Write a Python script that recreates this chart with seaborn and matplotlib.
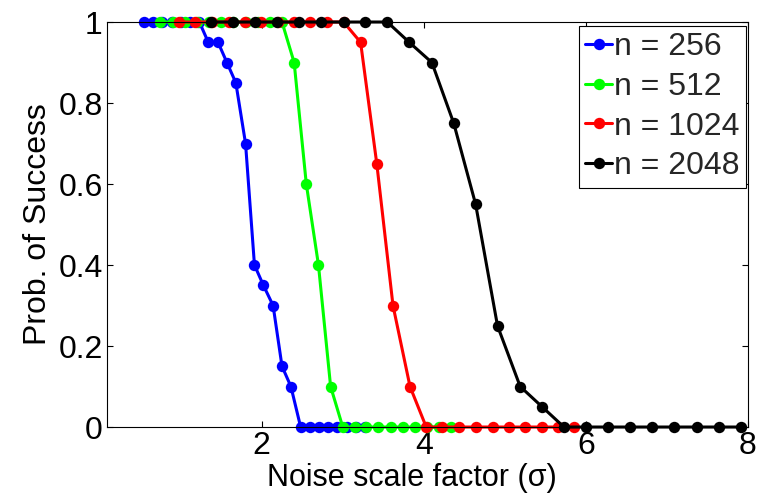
import matplotlib
matplotlib.use("Agg")
import matplotlib.pyplot as plt
import seaborn as sns
import pandas as pd

sns.set_theme(style="white")
plt.rcParams['font.family'] = ['Liberation Sans', 'DejaVu Sans']

# ---- data ----
labels = ["n = 256", "n = 512", "n = 1024", "n = 2048"]
colors = ["#0000ff", "#00ff00", "#ff0000", "#000000"]

x_256 = [0.55, 0.66, 0.77, 0.89, 1.00, 1.12, 1.23, 1.34, 1.46, 1.57, 1.68, 1.80, 1.91,
         2.02, 2.14, 2.25, 2.36, 2.48, 2.59, 2.71, 2.82, 2.93, 3.05, 3.16, 3.27]
y_256 = [1, 1, 1, 1, 1, 1, 1, 0.95, 0.95, 0.9, 0.85, 0.7, 0.4,
         0.35, 0.3, 0.15, 0.1, 0, 0, 0, 0, 0, 0, 0, 0]

x_512 = [0.75, 0.90, 1.05, 1.20, 1.35, 1.50, 1.65, 1.80, 1.95, 2.10, 2.25, 2.40, 2.55,
         2.70, 2.85, 3.00, 3.15, 3.29, 3.44, 3.59, 3.74, 3.89, 4.04, 4.19, 4.34]
y_512 = [1, 1, 1, 1, 1, 1, 1, 1, 1, 1, 1, 0.9, 0.6,
         0.4, 0.1, 0, 0, 0, 0, 0, 0, 0, 0, 0, 0]

x_1024 = [0.98, 1.18, 1.38, 1.59, 1.79, 1.99, 2.20, 2.40, 2.60, 2.81, 3.01, 3.22, 3.42,
          3.62, 3.83, 4.03, 4.23, 4.44, 4.64, 4.85, 5.05, 5.25, 5.46, 5.66, 5.86]
y_1024 = [1, 1, 1, 1, 1, 1, 1, 1, 1, 1, 1, 0.95, 0.65,
          0.3, 0.1, 0, 0, 0, 0, 0, 0, 0, 0, 0, 0]

x_2048 = [1.37, 1.64, 1.92, 2.19, 2.46, 2.73, 3.01, 3.28, 3.55, 3.82, 4.10, 4.37, 4.64,
          4.91, 5.19, 5.46, 5.73, 6.00, 6.28, 6.55, 6.82, 7.09, 7.37, 7.64, 7.91]
y_2048 = [1, 1, 1, 1, 1, 1, 1, 1, 1, 0.95, 0.9, 0.75, 0.55,
          0.25, 0.1, 0.05, 0, 0, 0, 0, 0, 0, 0, 0, 0]

x_ticks = [2, 4, 6, 8]
y_ticks = [0, 0.2, 0.4, 0.6, 0.8, 1]
y_ticklabels = ["0", "0.2", "0.4", "0.6", "0.8", "1"]

series_x = [x_256, x_512, x_1024, x_2048]
series_y = [y_256, y_512, y_1024, y_2048]

fig = plt.figure(figsize=(7.6, 4.97), dpi=100)
ax = fig.add_axes([0.1408, 0.1408, 0.8432, 0.8149])

for xs, ys, lab, col in zip(series_x, series_y, labels, colors):
    df = pd.DataFrame({"x": xs, "y": ys})
    sns.lineplot(data=df, x="x", y="y", ax=ax, color=col, label=lab,
                 marker="o", markersize=8.2, markeredgewidth=0,
                 linewidth=2.2, sort=False, clip_on=False)

ax.set_xlim(0.09, 8)
ax.set_ylim(0, 1)
ax.set_xticks(x_ticks)
ax.set_xticklabels([str(t) for t in x_ticks])
ax.set_yticks(y_ticks)
ax.set_yticklabels(y_ticklabels)

ax.tick_params(direction="in", length=4.5, width=0.8, labelsize=23,
               top=True, right=True, bottom=True, left=True, pad=3, colors="black")
for s in ax.spines.values():
    s.set_visible(True)
    s.set_color("black")
    s.set_linewidth(0.8)

ax.set_xlabel("Noise scale factor (σ)", fontsize=22, color="black")
ax.xaxis.set_label_coords(0.475, -0.088)
ax.set_ylabel("Prob. of Success", fontsize=23, labelpad=4, color="black")

leg = ax.legend(loc="upper right", bbox_to_anchor=(0.997, 0.99), fontsize=23,
                frameon=True, fancybox=False, edgecolor="black", framealpha=1,
                handlelength=0.85, handletextpad=0.05, borderpad=0.2,
                labelspacing=0.3, borderaxespad=0)
leg.get_frame().set_linewidth(0.8)

fig.savefig("out.png", dpi=100, facecolor="white")
